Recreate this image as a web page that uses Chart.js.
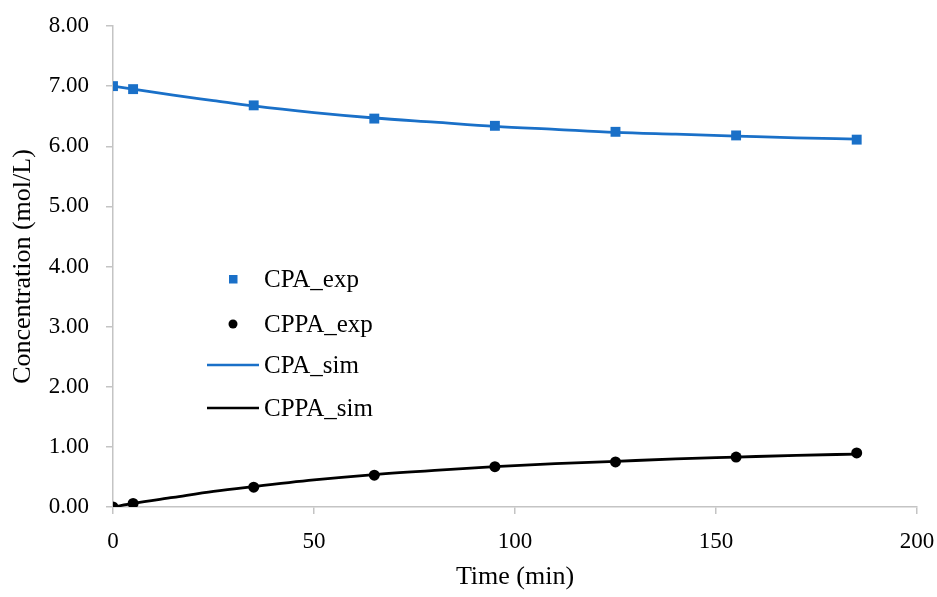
<!DOCTYPE html>
<html>
<head>
<meta charset="utf-8">
<script src="https://cdn.jsdelivr.net/npm/chart.js@4/dist/chart.umd.min.js"></script>
<style>
  html, body { margin: 0; padding: 0; background: #fff; }
  #wrap { width: 937px; height: 597px; }
</style>
</head>
<body>
<div id="wrap"><canvas id="chart"></canvas></div>
<script>
// experimental samples
const expTime = [0, 5, 35, 65, 95, 125, 155, 185];
const cpaExp = [7.00, 6.95, 6.68, 6.46, 6.34, 6.24, 6.18, 6.11];
const cppaExp = [0.00, 0.06, 0.33, 0.53, 0.67, 0.75, 0.83, 0.90];

// simulated curves
const simTime = [0, 5, 15, 25, 35, 50, 65, 80, 95, 110, 125, 140, 155, 170, 185];
const cpaSim = [7.00, 6.95, 6.85, 6.76, 6.67, 6.56, 6.47, 6.40, 6.33, 6.28, 6.23, 6.20, 6.17, 6.14, 6.12];
const cppaSim = [0.00, 0.06, 0.16, 0.26, 0.34, 0.45, 0.54, 0.61, 0.67, 0.72, 0.76, 0.80, 0.83, 0.86, 0.88];

const xTicks = [0, 50, 100, 150, 200];
const yTicks = [0, 1, 2, 3, 4, 5, 6, 7, 8];

const blue = '#1a70c8';
const fontFamily = '"Liberation Serif", "DejaVu Serif", serif';
const axisGray = '#c4c4c4';

const toPts = (xs, ys) => xs.map((x, i) => ({ x: x, y: ys[i] }));

// legend drawn inside the plot area, like the original
const insideLegend = {
  id: 'insideLegend',
  afterDraw(chart) {
    const ctx = chart.ctx;
    const a = chart.chartArea;
    const x0 = a.left + 94;
    const textX = a.left + 151;
    const rows = [a.top + 253, a.top + 298, a.top + 339, a.top + 382];
    ctx.save();
    ctx.font = '25px ' + fontFamily;
    ctx.textBaseline = 'middle';
    const labels = chart.data.datasets.map(d => d.label);

    ctx.fillStyle = blue;
    ctx.fillRect(x0 + 26 - 4, rows[0] - 4, 8.5, 8.5);
    ctx.fillStyle = '#000';
    ctx.beginPath();
    ctx.arc(x0 + 26, rows[1], 4.5, 0, Math.PI * 2);
    ctx.fill();

    ctx.lineWidth = 2.5;
    ctx.strokeStyle = blue;
    ctx.beginPath();
    ctx.moveTo(x0, rows[2]);
    ctx.lineTo(x0 + 52, rows[2]);
    ctx.stroke();
    ctx.strokeStyle = '#000';
    ctx.beginPath();
    ctx.moveTo(x0, rows[3]);
    ctx.lineTo(x0 + 52, rows[3]);
    ctx.stroke();

    ctx.fillStyle = '#000';
    labels.forEach((t, i) => ctx.fillText(t, textX, rows[i] + 1));
    ctx.restore();
  }
};

new Chart(document.getElementById('chart'), {
  type: 'scatter',
  data: {
    datasets: [
      {
        label: 'CPA_exp',
        data: toPts(expTime, cpaExp),
        showLine: false,
        pointStyle: 'rect',
        pointRadius: 7,
        backgroundColor: blue,
        borderColor: blue,
        borderWidth: 0,
        order: 0
      },
      {
        label: 'CPPA_exp',
        data: toPts(expTime, cppaExp),
        showLine: false,
        pointStyle: 'circle',
        pointRadius: 5.5,
        backgroundColor: '#000',
        borderColor: '#000',
        borderWidth: 0,
        order: 0
      },
      {
        label: 'CPA_sim',
        data: toPts(simTime, cpaSim),
        showLine: true,
        pointRadius: 0,
        borderColor: blue,
        borderWidth: 2.8,
        cubicInterpolationMode: 'monotone',
        order: 1
      },
      {
        label: 'CPPA_sim',
        data: toPts(simTime, cppaSim),
        showLine: true,
        pointRadius: 0,
        borderColor: '#000',
        borderWidth: 2.8,
        cubicInterpolationMode: 'monotone',
        order: 1
      }
    ]
  },
  options: {
    responsive: true,
    maintainAspectRatio: false,
    animation: false,
    layout: { padding: { top: 26, right: 20, left: 0, bottom: 0 } },
    plugins: {
      legend: { display: false },
      tooltip: { enabled: false }
    },
    scales: {
      x: {
        type: 'linear',
        min: 0,
        max: 200,
        afterBuildTicks: s => { s.ticks = xTicks.map(v => ({ value: v })); },
        ticks: { color: '#000', font: { family: fontFamily, size: 23 }, padding: 14 },
        grid: { drawOnChartArea: false, drawTicks: true, tickLength: 7, color: axisGray, lineWidth: 1.5 },
        border: { color: axisGray, width: 1.5 },
        title: { display: true, text: 'Time (min)', color: '#000', font: { family: fontFamily, size: 26 }, padding: { top: 6 } },
        afterFit: s => { s.height = 90; s.paddingLeft = 0; s.paddingRight = 0; }
      },
      y: {
        min: 0,
        max: 8,
        afterBuildTicks: s => { s.ticks = yTicks.map(v => ({ value: v })); },
        ticks: { color: '#000', font: { family: fontFamily, size: 23 }, padding: 17, callback: v => v.toFixed(2) },
        grid: { drawOnChartArea: false, drawTicks: true, tickLength: 7, color: axisGray, lineWidth: 1.5 },
        border: { color: axisGray, width: 1.5 },
        title: { display: true, text: 'Concentration (mol/L)', color: '#000', font: { family: fontFamily, size: 26 }, padding: { top: 8 } },
        afterFit: s => { s.width = 113; s.paddingTop = 0; s.paddingBottom = 0; }
      }
    }
  },
  plugins: [insideLegend]
});
</script>
</body>
</html>
